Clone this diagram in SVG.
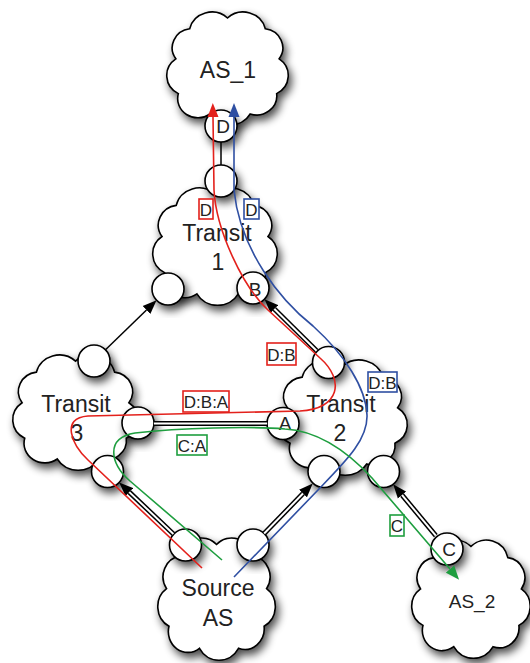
<svg xmlns="http://www.w3.org/2000/svg" width="530" height="663" viewBox="0 0 530 663">
<style>
.cloud{fill:#fff;stroke:#000;stroke-width:1.6}
.port{fill:#fff;stroke:#000;stroke-width:1.6}
.t{font-family:"Liberation Sans",Arial,Helvetica,sans-serif;fill:#222;text-anchor:middle}
.big{font-size:23px}
.pl{font-size:19px}
.lb{font-size:17px}
.link{fill:none;stroke:#000;stroke-width:1.5}
.dbl{fill:none;stroke:#000;stroke-width:5}
.dbw{fill:none;stroke:#fff;stroke-width:2}
.red{fill:none;stroke:#e3211c;stroke-width:1.6}
.blue{fill:none;stroke:#2f4fa2;stroke-width:1.6}
.green{fill:none;stroke:#1e9e3f;stroke-width:1.6}
.bred{fill:#fff;stroke:#e3211c;stroke-width:1.6}
.bblue{fill:#fff;stroke:#2f4fa2;stroke-width:1.6}
.bgreen{fill:#fff;stroke:#1e9e3f;stroke-width:1.6}
</style>
<defs>
<filter id="sh" x="-30%" y="-30%" width="170%" height="170%">
<feGaussianBlur in="SourceAlpha" stdDeviation="4.5"/>
<feOffset dx="3" dy="5" result="o"/>
<feComponentTransfer><feFuncA type="linear" slope="0.7"/></feComponentTransfer>
<feMerge><feMergeNode/><feMergeNode in="SourceGraphic"/></feMerge>
</filter>
<path id="cloud" class="cloud" vector-effect="non-scaling-stroke" d="M20,20 A18,18 0 0 1 50,11 A18,18 0 0 1 80,20 A16,16 0 0 1 91,45 A17,17 0 0 1 89,74 A16,16 0 0 1 68,91 A18.5,18.5 0 0 1 36,91 A16,16 0 0 1 11,74 A17,17 0 0 1 9,45 A16,16 0 0 1 20,20 Z"/>
<marker id="ak" markerUnits="userSpaceOnUse" markerWidth="15" markerHeight="12" refX="0" refY="6" orient="auto" viewBox="0 0 15 12"><path d="M0,0.5 L14,6 L0,11.5 Z" fill="#000"/></marker>
<marker id="ar" markerUnits="userSpaceOnUse" markerWidth="15" markerHeight="12" refX="0" refY="6" orient="auto" viewBox="0 0 15 12"><path d="M0,0.5 L14,6 L0,11.5 Z" fill="#e3211c"/></marker>
<marker id="ab" markerUnits="userSpaceOnUse" markerWidth="15" markerHeight="12" refX="0" refY="6" orient="auto" viewBox="0 0 15 12"><path d="M0,0.5 L14,6 L0,11.5 Z" fill="#2f4fa2"/></marker>
<marker id="ag" markerUnits="userSpaceOnUse" markerWidth="15" markerHeight="12" refX="0" refY="6" orient="auto" viewBox="0 0 15 12"><path d="M0,0.5 L14,6 L0,11.5 Z" fill="#1e9e3f"/></marker>
</defs>
<rect width="530" height="663" fill="#fff"/>

<g id="as1">
<g filter="url(#sh)"><use href="#cloud" transform="translate(164.5,4.8) scale(1.26,1.2)"/></g>
<circle class="port" cx="221" cy="126" r="16" filter="url(#sh)"/>
<text class="t big" x="228" y="78">AS_1</text>
<text class="t pl" x="223" y="133">D</text>
</g>

<g id="transit1">
<g filter="url(#sh)"><use href="#cloud" transform="translate(150.4,180.5) scale(1.292,1.245)"/></g>
<circle class="port" cx="221" cy="181" r="16" filter="url(#sh)"/>
<circle class="port" cx="168" cy="289" r="16" filter="url(#sh)"/>
<circle class="port" cx="253" cy="288" r="16" filter="url(#sh)"/>
<text class="t big" x="217" y="241">Transit</text>
<text class="t big" x="218" y="270">1</text>
<text class="t pl" x="255" y="296">B</text>
</g>

<g id="transit3">
<g filter="url(#sh)"><use href="#cloud" transform="translate(10.4,347.7) scale(1.302,1.223)"/></g>
<circle class="port" cx="94" cy="361" r="16" filter="url(#sh)"/>
<circle class="port" cx="138" cy="423" r="16" filter="url(#sh)"/>
<circle class="port" cx="107.5" cy="471.5" r="16" filter="url(#sh)"/>
<text class="t big" x="76" y="412">Transit</text>
<text class="t big" x="77" y="441">3</text>
</g>

<g id="transit2">
<g filter="url(#sh)"><use href="#cloud" transform="translate(275.3,352.7) scale(1.344,1.223)"/></g>
<circle class="port" cx="328.5" cy="362.5" r="16" filter="url(#sh)"/>
<circle class="port" cx="283" cy="423.5" r="16" filter="url(#sh)"/>
<circle class="port" cx="324" cy="471.5" r="16" filter="url(#sh)"/>
<circle class="port" cx="383.5" cy="471.5" r="16" filter="url(#sh)"/>
<text class="t big" x="341" y="412">Transit</text>
<text class="t big" x="340" y="441">2</text>
<text class="t pl" x="285" y="430">A</text>
</g>

<g id="source">
<g filter="url(#sh)"><use href="#cloud" transform="translate(155.6,530.2) scale(1.219,1.298)"/></g>
<circle class="port" cx="185.5" cy="545" r="16" filter="url(#sh)"/>
<circle class="port" cx="253" cy="545" r="16" filter="url(#sh)"/>
<text class="t big" x="218" y="596">Source</text>
<text class="t big" x="218" y="626">AS</text>
</g>

<g id="as2">
<g filter="url(#sh)"><use href="#cloud" transform="translate(409.5,532.5) scale(1.229,1.255)"/></g>
<circle class="port" cx="447" cy="549" r="16" filter="url(#sh)"/>
<text class="t" style="font-size:19px" x="472" y="608">AS_2</text>
<text class="t pl" x="449" y="556">C</text>
</g>

<g id="connectors">
<line class="link" x1="221" y1="142" x2="221" y2="165"/>
<line class="link" x1="105.5" y1="349.8" x2="146.5" y2="310" marker-end="url(#ak)"/>
<line class="dbl" x1="316.6" y1="350.8" x2="274.4" y2="309" marker-end="url(#ak)"/>
<line class="dbw" x1="316.6" y1="350.8" x2="274.4" y2="309"/>
<line class="dbl" x1="154" y1="423.5" x2="267" y2="423.5"/>
<line class="dbw" x1="154" y1="423.5" x2="267" y2="423.5"/>
<line class="dbl" x1="173.4" y1="534" x2="129.3" y2="492.1" marker-end="url(#ak)"/>
<line class="dbw" x1="173.4" y1="534" x2="129.3" y2="492.1"/>
<line class="dbl" x1="264.2" y1="533.5" x2="303" y2="493.5" marker-end="url(#ak)"/>
<line class="dbw" x1="264.2" y1="533.5" x2="303" y2="493.5"/>
<line class="dbl" x1="435.8" y1="535.7" x2="402.1" y2="495.1" marker-end="url(#ak)"/>
<line class="dbw" x1="435.8" y1="535.7" x2="402.1" y2="495.1"/>

<path class="red" d="M202,568 L88,460 C72,445 60,418 88,416 L300,411 C340,409 345,380 320,358 L268,310 C243,287 216,230 214,190 L213,117" marker-end="url(#ar)"/>
<path class="blue" d="M234,577 L318,490 C345,462 368,440 367,415 C366,388 345,355 313,326 C280,300 240,250 234,190 L234,117" marker-end="url(#ab)"/>
<path class="green" d="M222,560 L130,481 C110,463 105,438 135,433 C180,428 250,426 285,429 C320,431 348,452 372,478 L450,569" marker-end="url(#ag)"/>
</g>

<g id="labels">
<rect class="bred" x="199" y="199" width="14" height="20"/>
<text class="t lb" x="206" y="216">D</text>
<rect class="bblue" x="244" y="199" width="15" height="20"/>
<text class="t lb" x="251.5" y="216">D</text>
<rect class="bred" x="267" y="343" width="29" height="22"/>
<text class="t lb" x="281.5" y="361">D:B</text>
<rect class="bblue" x="368" y="372" width="29" height="20"/>
<text class="t lb" x="382.5" y="389">D:B</text>
<rect class="bred" x="183" y="391" width="46" height="21"/>
<text class="t lb" x="206" y="408">D:B:A</text>
<rect class="bgreen" x="177" y="435" width="30" height="20"/>
<text class="t lb" x="192" y="452">C:A</text>
<rect class="bgreen" x="390" y="515" width="14" height="21"/>
<text class="t lb" x="397" y="532">C</text>
</g>
</svg>
